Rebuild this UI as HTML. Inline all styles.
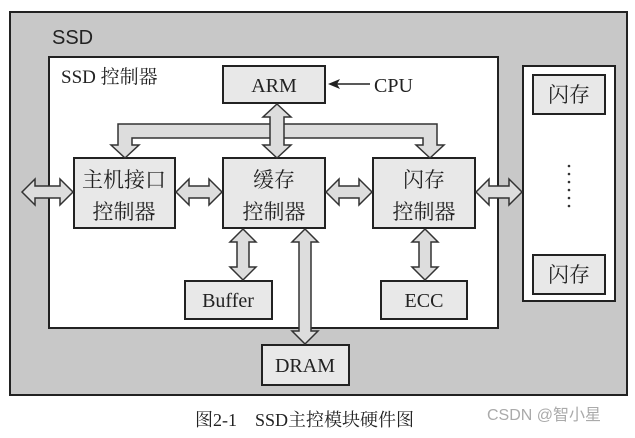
<!DOCTYPE html>
<html><head><meta charset="utf-8"><style>
body{margin:0;background:#fff;width:635px;height:433px;overflow:hidden}
svg text{font-family:"Liberation Serif","Noto Serif CJK SC",serif;fill:#222}
</style></head><body>
<svg width="635" height="433" viewBox="0 0 635 433" xmlns="http://www.w3.org/2000/svg">
<g stroke="#222" stroke-width="2">
<rect x="10" y="12" width="617" height="383" fill="#c8c8c8"/>
<rect x="49" y="57" width="449" height="271" fill="#fff"/>
<rect x="523" y="66" width="92" height="235" fill="#fff"/>
</g>
<g stroke="#222" stroke-width="2" fill="#e8e8e8">
<rect x="223" y="66" width="102" height="37"/>
<rect x="74" y="158" width="101" height="70"/>
<rect x="223" y="158" width="102" height="70"/>
<rect x="373" y="158" width="102" height="70"/>
<rect x="185" y="281" width="87" height="38"/>
<rect x="381" y="281" width="86" height="38"/>
<rect x="262" y="345" width="87" height="40"/>
<rect x="533" y="75" width="72" height="39"/>
<rect x="533" y="255" width="72" height="39"/>
</g>
<g stroke="#333" stroke-width="1.5" fill="#ddd">
<path d="M118,145 L118,124 L437,124 L437,145 L444,145 L430,158 L416,145 L423,145 L423,138 L132,138 L132,145 L139,145 L125,158 L111,145 Z"/>
<path d="M277,104 L291,117 L284,117 L284,145 L291,145 L277,158 L263,145 L270,145 L270,117 L263,117 Z"/>
<path d="M22,192 L35,179 L35,186 L60,186 L60,179 L73,192 L60,205 L60,198 L35,198 L35,205 Z"/>
<path d="M176,192 L189,179 L189,186 L209,186 L209,179 L222,192 L209,205 L209,198 L189,198 L189,205 Z"/>
<path d="M326,192 L339,179 L339,186 L359,186 L359,179 L372,192 L359,205 L359,198 L339,198 L339,205 Z"/>
<path d="M476,192 L489,179 L489,186 L509,186 L509,179 L522,192 L509,205 L509,198 L489,198 L489,205 Z"/>
<path d="M243,229 L256,242 L249,242 L249,267 L256,267 L243,280 L230,267 L237,267 L237,242 L230,242 Z"/>
<path d="M305,229 L318,242 L311,242 L311,331 L318,331 L305,344 L292,331 L299,331 L299,242 L292,242 Z"/>
<path d="M425,229 L438,242 L431,242 L431,267 L438,267 L425,280 L412,267 L419,267 L419,242 L412,242 Z"/>
</g>
<line x1="370" y1="84" x2="336" y2="84" stroke="#222" stroke-width="1.5"/>
<path d="M328,84 L340,79 L337,84 L340,89 Z" fill="#222"/>
<g fill="#333">
<circle cx="569" cy="166" r="1.3"/><circle cx="569" cy="174" r="1.3"/><circle cx="569" cy="182" r="1.3"/><circle cx="569" cy="190" r="1.3"/><circle cx="569" cy="198" r="1.3"/><circle cx="569" cy="206" r="1.3"/>
</g>
<text x="52" y="44" style="font-family:'Liberation Sans',sans-serif" font-size="20">SSD</text>
<text x="61" y="83" font-size="19">SSD 控制器</text>
<text x="274" y="92" font-size="20" text-anchor="middle">ARM</text>
<text x="374" y="92" font-size="20">CPU</text>
<text x="124" y="187" font-size="21" text-anchor="middle">主机接口</text>
<text x="124" y="219" font-size="21" text-anchor="middle">控制器</text>
<text x="274" y="187" font-size="21" text-anchor="middle">缓存</text>
<text x="274" y="219" font-size="21" text-anchor="middle">控制器</text>
<text x="424" y="187" font-size="21" text-anchor="middle">闪存</text>
<text x="424" y="219" font-size="21" text-anchor="middle">控制器</text>
<text x="228" y="307" font-size="20" text-anchor="middle">Buffer</text>
<text x="424" y="307" font-size="20" text-anchor="middle">ECC</text>
<text x="305" y="372" font-size="20" text-anchor="middle">DRAM</text>
<text x="569" y="102" font-size="21" text-anchor="middle">闪存</text>
<text x="569" y="282" font-size="21" text-anchor="middle">闪存</text>
<text x="195" y="426" font-size="18">图2-1　SSD主控模块硬件图</text>
<text x="487" y="420" font-size="16" style="font-family:'Liberation Sans','Noto Sans CJK SC',sans-serif;fill:#aaa">CSDN @智小星</text>
</svg>
</body></html>
